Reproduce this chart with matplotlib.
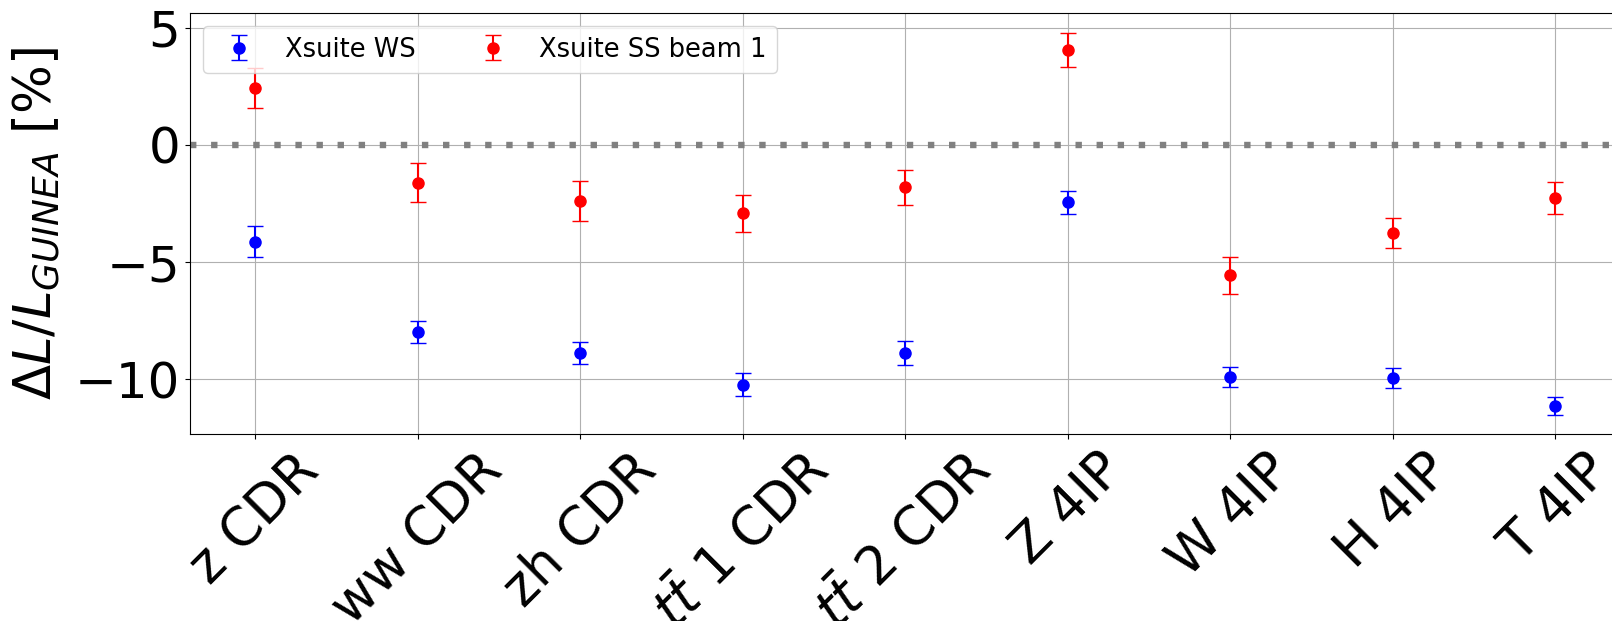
import numpy as np
import matplotlib; matplotlib.use('Agg')
import matplotlib.pyplot as plt

# luminosity deviation w.r.t. GUINEA-PIG, per machine configuration
configs = ['z CDR', 'ww CDR', 'zh CDR', r'$t\bar{t}$ 1 CDR', r'$t\bar{t}$ 2 CDR',
           'Z 4IP', 'W 4IP', 'H 4IP', 'T 4IP']
ws_dl   = [-4.13, -7.98, -8.90, -10.23, -8.87, -2.46, -9.90, -9.94, -11.13]
ws_err  = [0.65, 0.46, 0.47, 0.49, 0.51, 0.49, 0.44, 0.44, 0.39]
ss_dl   = [2.42, -1.61, -2.41, -2.91, -1.82, 4.05, -5.57, -3.75, -2.25]
ss_err  = [0.84, 0.85, 0.85, 0.79, 0.74, 0.74, 0.79, 0.63, 0.68]

x = np.arange(len(configs))

fig = plt.figure(figsize=(16.12, 6.21), dpi=100)
ax = fig.add_axes([0.1179, 0.3011, 0.8871, 0.6773])

ax.errorbar(x, ws_dl, yerr=ws_err, fmt='o', color='blue', capsize=5.5, ms=8, label='Xsuite WS')
ax.errorbar(x, ss_dl, yerr=ss_err, fmt='o', color='red', capsize=5.5, ms=8, label='Xsuite SS beam 1')
ax.axhline(0, color='gray', ls=(0, (1, 2.3)), lw=4.6)

ax.set_xticks(x)
ax.set_xticklabels(configs, rotation=45, fontsize=38)
ax.set_yticks([-10, -5, 0, 5])
ax.tick_params(axis='y', labelsize=36)
ax.set_ylabel(r'$\Delta L/L_{GUINEA}$ [%]', fontsize=37, labelpad=9)
ax.grid(True)
ax.legend(loc='upper left', ncol=2, fontsize=18.5)

fig.savefig('out.png', dpi=100)
